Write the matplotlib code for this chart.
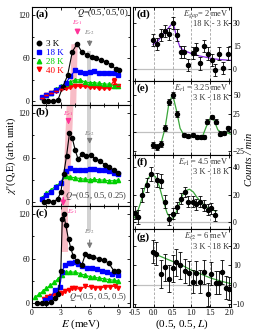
import numpy as np
import matplotlib
matplotlib.use('Agg')
import matplotlib.pyplot as plt
from matplotlib.ticker import MultipleLocator
from matplotlib.lines import Line2D

plt.rcParams['font.family'] = ['Liberation Serif', 'DejaVu Serif']
plt.rcParams['mathtext.fontset'] = 'stix'

# ---- left column: chi''(Q,E) vs E ----
temps = ['3 K', '18 K', '28 K', '40 K']
cols = ['k', '#0000ff', '#00d000', '#ff0000']
marks = ['o', 's', '^', 'v']

# (a) Q=(0.5,0.5,0)
E_a_3 = [1.2, 1.7, 2.2, 2.7, 3.2, 3.7, 4.2, 4.7, 5.2, 5.7, 6.2, 6.7, 7.2, 7.7, 8.2, 8.7, 9.1]
chi_a_3 = [0, 0, 0, 2, 20, 36, 69, 80, 68, 65, 62, 60, 57, 55, 51, 45, 44]
E_a = [1.0, 1.5, 2.0, 2.5, 3.0, 3.5, 4.0, 4.5, 5.0, 5.5, 6.0, 6.5, 7.0, 7.5, 8.0, 8.5, 9.0]
chi_a_18 = [6, 9, 12, 16, 20, 25, 35, 43, 41, 40, 41, 42, 39, 40, 39, 40, 37]
chi_a_28 = [6, 9, 12, 17, 21, 24, 27, 30, 30, 27, 26, 26, 25, 24, 24, 22, 22]
chi_a_40 = [5, 9, 12, 15, 17, 19, 20, 22, 21, 21, 20, 20, 19, 19, 19, 28, 21]
err_a_40 = [0, 0, 0, 0, 0, 0, 0, 0, 0, 0, 0, 0, 0, 0, 0, 4, 0]

# (b) Q=(0.5,0.5,0.25)
E_b_3 = [1.2, 1.7, 2.2, 2.7, 3.0, 3.3, 3.6, 3.9, 4.2, 4.5, 4.8, 5.2, 5.6, 6.1, 6.6, 7.1, 7.6, 8.0, 8.5, 9.0]
chi_b_3 = [0, 2, 0, 5, 14, 38, 63, 93, 86, 70, 58, 65, 62, 64, 58, 56, 50, 47, 44, 40]
E_b = [1.0, 1.5, 2.0, 2.5, 3.0, 3.5, 4.0, 4.5, 5.0, 5.5, 6.0, 6.5, 7.0, 7.5, 8.0, 8.5, 9.0]
chi_b_18 = [5, 10, 14, 20, 26, 42, 46, 44, 43, 44, 45, 45, 44, 43, 42, 40, 38]
chi_b_28 = [6, 12, 17, 22, 27, 35, 34, 33, 32, 31, 30, 31, 30, 30, 29, 29, 30]

# (c) Q=(0.5,0.5,0.5)
E_c_3 = [0.5, 1.0, 1.5, 2.0, 2.4, 2.75, 3.0, 3.15, 3.3, 3.5, 3.8, 4.05, 4.3, 4.7, 5.2,
         5.55, 5.9, 6.4, 6.95, 7.5, 8.0, 8.5, 8.9]
chi_c_3 = [0, 0, 0, 2, 7, 13, 44, 113, 120, 106, 86, 74, 63, 57, 52, 66, 64, 62, 60, 58, 54, 44, 43]
E_c_18 = [1.4, 1.9, 2.4, 2.9, 3.1, 3.45, 3.8, 4.1, 4.5, 4.8, 5.2, 5.7, 6.2, 6.8, 7.3, 7.8, 8.3, 8.9]
chi_c_18 = [5, 7, 18, 22, 42, 52, 54, 54, 56, 53, 50, 48, 48, 46, 44, 42, 40, 38]
E_c_28 = [0.3, 0.7, 1.1, 1.5, 1.9, 2.3, 2.7, 3.1, 3.5, 4.0, 4.5, 5.0, 5.5, 6.0, 6.5, 7.0, 7.5, 8.0, 8.5, 9.0]
chi_c_28 = [8, 12, 16, 20, 24, 28, 33, 38, 42, 42, 42, 40, 38, 36, 35, 34, 33, 32, 31, 30]
E_c_40 = [1.2, 1.6, 2.0, 2.4, 2.8, 3.1, 3.45, 3.8, 4.15, 4.5, 5.0, 5.55, 6.1, 6.6, 7.1, 7.6, 8.1, 8.6, 8.9]
chi_c_40 = [6, 8, 10, 12, 14, 14, 16, 18, 21, 20, 19, 23, 22, 21, 21, 22, 22, 23, 21]

# resonance bands (meV): left edge at bottom/top of band, band width, value range
pink_bands = {'a': (3.9, 4.05, 0.65, -5, 80), 'b': (3.1, 3.56, 0.7, -5, 131), 'c': (3.05, 3.05, 0.65, 69, 131)}
gray_bands = {'a': (5.72, 6.18, -5, 70), 'b': (5.72, 6.18, -5, 131), 'c': (5.72, 6.18, 98, 131)}
# arrows: (E, label value, tail, head)
arr_r1 = {'a': (4.74, 109, 102, 88), 'b': (3.8, 120, 113, 101), 'c': (3.25, 124, 146, 127)}
arr_r2 = {'a': (6.0, 95, 88, 72), 'b': (6.0, 93, 88, 75), 'c': (6.0, 96, 89, 70)}
q_text = {'a': '(0.5, 0.5, 0)', 'b': '(0.5, 0.5, 0.25)', 'c': '(0.5, 0.5, 0.5)'}

# ---- right column: Counts/min vs L ----
L_d = [-0.01, 0.09, 0.2, 0.3, 0.41, 0.5, 0.62, 0.72, 0.8, 0.92, 1.03, 1.12, 1.23, 1.33, 1.45, 1.54, 1.63, 1.74, 1.85, 1.96]
cnt_d = [19, 16.5, 22, 25, 23, 30, 22, 11, 11, 2.5, 10.5, 13, 3.5, 15, 10, 6, -1, 10, 0.5, 10]
err_d = [4, 4, 4, 4, 4, 4, 4, 4, 4, 4, 4, 4, 4, 4, 4, 4, 4, 4, 4, 4]
fitL_d = [-0.02, 0.1, 0.2, 0.3, 0.4, 0.5, 0.55, 0.6, 0.7, 0.8, 0.9, 1.0, 1.2, 1.4, 1.6, 1.8, 2.05]
fit_d = [16, 18, 21, 24, 27, 30, 27, 21, 14, 12, 11, 10, 8.5, 7.5, 6.5, 6, 5.5]

L_e = [-0.01, 0.09, 0.2, 0.3, 0.41, 0.5, 0.62, 0.79, 0.92, 1.03, 1.14, 1.25, 1.34, 1.42, 1.54, 1.65, 1.76, 1.87, 1.96]
cnt_e = [-18, -20, -16, 6, 41, 50, 25, -4, -5, -4, -7, -7, -7, 14, 20, 14, -2, -1, 5]
err_e = [4, 4, 4, 4, 4, 4, 4, 3, 3, 3, 3, 3, 3, 3, 3, 3, 3, 3, 3]
fitL_e = [-0.05, 0.1, 0.2, 0.3, 0.4, 0.5, 0.6, 0.7, 0.8, 0.9, 1.0, 1.1, 1.2, 1.3, 1.4, 1.5, 1.6, 1.7, 1.8, 1.9, 2.05]
fit_e = [-17, -19, -14, 5, 38, 51, 30, 5, -4, -6, -6, -7, -7, -5, 8, 19, 16, 3, -1, 0, -3]

L_f = [-0.5, -0.41, -0.3, -0.19, -0.07, 0.08, 0.18, 0.3, 0.41, 0.5, 0.62, 0.72, 0.82, 0.92, 1.03, 1.12, 1.23, 1.33, 1.43, 1.53, 1.63]
cnt_f = [7, 4, 20, 27, 35, 31, 30, 15, 2, 6, 11, 17, 22, 15, 15, 13, 15, 12, 9, 10, 5]
err_f = [5, 5, 5, 5, 5, 5, 5, 5, 4, 4, 4, 4, 4, 4, 4, 4, 4, 4, 4, 4, 4]
fitL_f = [-0.55, -0.45, -0.35, -0.25, -0.15, -0.05, 0.05, 0.15, 0.25, 0.35, 0.45, 0.55, 0.65, 0.75,
          0.85, 0.95, 1.05, 1.15, 1.25, 1.35, 1.45, 1.55, 1.65]
fit_f = [2, 6, 14, 24, 32, 35, 33, 26, 16, 7, 2, 4, 11, 19, 23, 24, 22, 18, 15, 12, 10, 9, 8]

L_g = [-0.03, 0.07, 0.18, 0.29, 0.41, 0.5, 0.6, 0.71, 0.82, 0.94, 1.03, 1.11, 1.24, 1.33, 1.43, 1.52, 1.64, 1.72, 1.82, 1.93, 2.0]
cnt_g = [17, 16, 5.5, 9, 3, 8.5, 11.5, 10, 7, 6, 1.5, 6, 1.5, 6.5, -5, 5.7, 1, 1, 6.5, -1.5, -2]
err_g = [6, 6, 7, 7, 7, 7, 7, 7, 6, 6, 6, 6, 6, 6, 6, 6, 6, 6, 6, 6, 6]
fitL_g = [-0.05, 0.25, 0.5, 0.75, 1.0, 1.25, 1.5, 1.75, 2.05]
fit_g = [16.5, 14, 12, 10, 7.5, 5.5, 3.5, 2, 0.5]

right_info = [
    ('d', L_d, cnt_d, err_d, fitL_d, fit_d, '#8a2be2', r'$E_{gap}$= 2 meV', '18 K - 3 K', (-8, 40.5), [0, 15, 30]),
    ('e', L_e, cnt_e, err_e, fitL_e, fit_e, '#3aa63a', r'$E_{r1}$ = 3.25 meV', '3 K - 18 K', (-31, 69), [-25, 0, 25, 50]),
    ('f', L_f, cnt_f, err_f, fitL_f, fit_f, '#3aa63a', r'$E_{r1}$ = 4.5 meV', '3 K - 18 K', (-5, 49), [0, 20, 40]),
    ('g', L_g, cnt_g, err_g, fitL_g, fit_g, '#3aa63a', r'$E_{r2}$ = 6 meV', '3 K - 18 K', (-11.5, 28.7), [-10, 0, 10, 20]),
]

fig = plt.figure(figsize=(2.58, 3.32), dpi=100)

W, H = 258.0, 332.0
def box(x0, y0, x1, y1):
    return [x0 / W, 1 - y1 / H, (x1 - x0) / W, (y1 - y0) / H]

left_rows = {'a': (7, 105), 'b': (105, 206), 'c': (206, 307)}
right_rows = {'d': (7, 81), 'e': (81, 155), 'f': (155, 229), 'g': (229, 307)}

left_series = {
    'a': [(E_a_3, chi_a_3), (E_a, chi_a_18), (E_a, chi_a_28), (E_a, chi_a_40)],
    'b': [(E_b_3, chi_b_3), (E_b, chi_b_18), (E_b, chi_b_28)],
    'c': [(E_c_3, chi_c_3), (E_c_18, chi_c_18), (E_c_28, chi_c_28), (E_c_40, chi_c_40)],
}

pink = '#f8bcc6'
pinkarr = '#ff3399'
grayband = '#d2d2d2'
grayarr = '#7a7a7a'
arrstyle = '-|>,head_length=0.3,head_width=0.15'

for key in ['a', 'b', 'c']:
    y0, y1 = left_rows[key]
    ax = fig.add_axes(box(32, y0, 130, y1))
    ax.set_xlim(0, 10.2)
    ax.set_ylim(-5, 131)
    # bands
    eb, et, w, vb, vt = pink_bands[key]
    ax.fill_betweenx([vb, vt], [eb, et], [eb + w, et + w], color=pink, lw=0, zorder=0)
    g0, g1, gb, gt = gray_bands[key]
    ax.fill_betweenx([gb, gt], [g0, g0], [g1, g1], color=grayband, lw=0, zorder=0)
    # data (draw from high T to low T)
    ser = left_series[key]
    for i in range(len(ser) - 1, -1, -1):
        x, y = ser[i]
        ax.plot(x, y, color=cols[i], lw=0.8, marker=marks[i], ms=3.0, mec=cols[i], mfc=cols[i], zorder=3 + (3 - i))
    if key == 'a':
        ax.errorbar(E_a, chi_a_40, yerr=err_a_40, fmt='none', ecolor=cols[3], elinewidth=0.7, capsize=1.2, zorder=6)
    # arrows
    e, lab, tail, head = arr_r1[key]
    ax.annotate('', xy=(e, head), xytext=(e, tail),
                arrowprops=dict(arrowstyle=arrstyle, color=pinkarr, lw=1.1),
                annotation_clip=False, zorder=7)
    if key == 'c':
        ax.text(e + 0.35, lab, r'$E_{r1}$', color=pinkarr, fontsize=5, ha='left', va='center')
    else:
        ax.text(e, lab, r'$E_{r1}$', color=pinkarr, fontsize=5, ha='center', va='center')
    e, lab, tail, head = arr_r2[key]
    ax.annotate('', xy=(e, head), xytext=(e, tail),
                arrowprops=dict(arrowstyle=arrstyle, color=grayarr, lw=0.8),
                zorder=7)
    ax.text(e, lab, r'$E_{r2}$', color=grayarr, fontsize=5, ha='center', va='center')
    # texts
    ax.text(0.04, 0.93, '(%s)' % key, transform=ax.transAxes, fontsize=8, fontweight='bold', va='center', ha='left')
    if key == 'a':
        ax.text(0.985, 0.94, r'$Q$=' + q_text[key], transform=ax.transAxes, fontsize=6, ha='right', va='center')
    else:
        ax.text(0.97, 0.1, r'$Q$=' + q_text[key], transform=ax.transAxes, fontsize=6, ha='right', va='center', color='#333333')
    ax.set_xticks([0, 3, 6, 9])
    ax.set_yticks([0, 60, 120])
    ax.xaxis.set_minor_locator(MultipleLocator(1.5))
    ax.yaxis.set_minor_locator(MultipleLocator(30))
    ax.tick_params(which='both', direction='in', top=True, right=True, width=0.6, labelsize=5.5, pad=1.5)
    ax.tick_params(which='major', length=2.5)
    ax.tick_params(which='minor', length=1.5)
    for s in ax.spines.values():
        s.set_linewidth(0.8)
    if key != 'c':
        ax.tick_params(labelbottom=False)
    else:
        ax.set_xlabel(r'$E$ (meV)', fontsize=8, labelpad=0)
    if key == 'a':
        handles = [Line2D([], [], ls='none', marker=marks[i], color=cols[i], ms=3.2) for i in range(4)]
        ax.legend(handles, temps, loc='upper left', bbox_to_anchor=(0.0, 0.7), frameon=False, fontsize=6.5,
                  labelcolor=cols, handlelength=0.8, handletextpad=0.4, labelspacing=0.05, borderpad=0.2,
                  borderaxespad=0.2)

fig.text(0.045, 0.53, r"$\chi$''(Q,E) (arb. unit)", rotation=90, fontsize=7.5, ha='center', va='center')

for key, L, c, err, fL, fv, lc, t1, t2, ylim, yt in right_info:
    y0, y1 = right_rows[key]
    ax = fig.add_axes(box(133, y0, 231, y1))
    ax.set_xlim(-0.55, 2.05)
    ax.set_ylim(*ylim)
    for xv in [0, 0.5, 1.0, 1.5]:
        ax.axvline(xv, color='#a0a0a0', lw=0.6, ls=(0, (3, 2)), zorder=0)
    ax.axhline(0, color='#c0c0c0', lw=0.9, zorder=0)
    ax.plot(fL, fv, color=lc, lw=0.9, zorder=2)
    ax.errorbar(L, c, yerr=err, fmt='o', color='k', ms=2.9, elinewidth=0.6, capsize=1.3, capthick=0.6, zorder=3)
    ax.text(0.035, 0.9, '(%s)' % key, transform=ax.transAxes, fontsize=8, fontweight='bold', va='center', ha='left')
    ax.text(0.975, 0.9, t1, transform=ax.transAxes, fontsize=6, ha='right', va='center', color='#333333')
    ax.text(0.975, 0.77, t2, transform=ax.transAxes, fontsize=6, ha='right', va='center', color='#333333')
    ax.set_xticks([-0.5, 0.0, 0.5, 1.0, 1.5, 2.0])
    ax.set_yticks(yt)
    ax.tick_params(direction='in', top=True, right=True, left=True, labelleft=False, labelright=True,
                   length=2.5, width=0.6, labelsize=5.5, pad=1.5)
    for s in ax.spines.values():
        s.set_linewidth(0.8)
    if key != 'g':
        ax.tick_params(labelbottom=False)
    else:
        ax.set_xticklabels(['-0.5', '0.0', '0.5', '1.0', '1.5', '2.0'])
        ax.set_xlabel(r'(0.5, 0.5, $L$)', fontsize=8, labelpad=0)

fig.text(0.968, 0.52, 'Counts / min', rotation=90, fontsize=7.5, style='italic', ha='center', va='center')

fig.savefig('out.png', dpi=100)
